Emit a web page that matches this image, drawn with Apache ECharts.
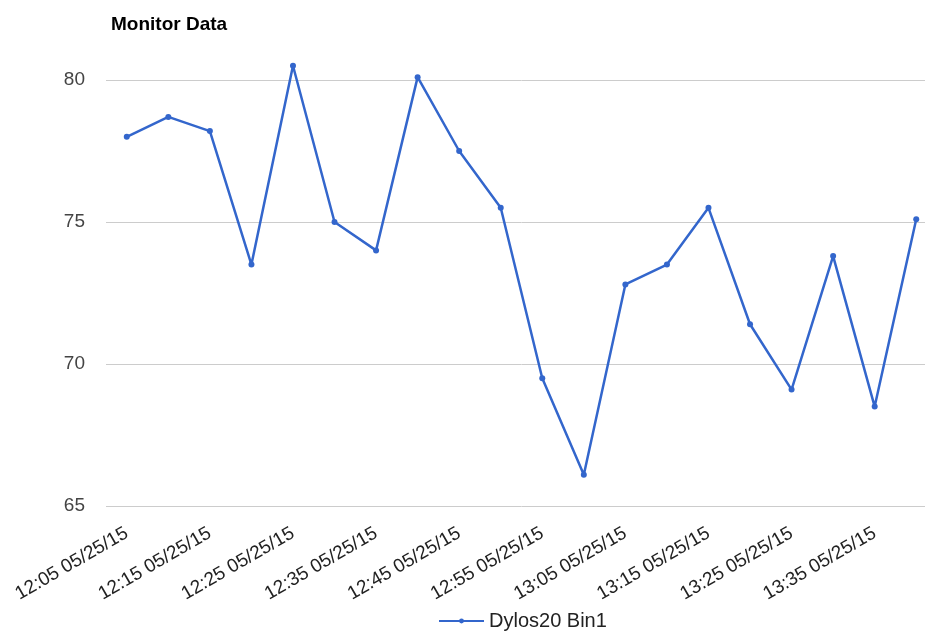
<!DOCTYPE html>
<html>
<head>
<meta charset="utf-8">
<script src="https://cdn.jsdelivr.net/npm/echarts@6/dist/echarts.min.js"></script>
<style>
  html, body { margin: 0; padding: 0; background: #fff; overflow: hidden; }
  /* plot runs a bit past the right edge in the original, so the canvas is wider than the window */
  #chart { width: 937px; height: 634px; }
</style>
</head>
<body>
<div id="chart"></div>
<script>
// readings every 5 min on 05/25/15
const categories = ['12:05', '12:10', '12:15', '12:20', '12:25', '12:30', '12:35', '12:40', '12:45', '12:50',
  '12:55', '13:00', '13:05', '13:10', '13:15', '13:20', '13:25', '13:30', '13:35', '13:40']
  .map(t => t + ' 05/25/15');
const bin1 = [78.0, 78.7, 78.2, 73.5, 80.5, 75.0, 74.0, 80.1, 77.5, 75.5,
  69.5, 66.1, 72.8, 73.5, 75.5, 71.4, 69.1, 73.8, 68.5, 75.1];
const yTicks = [65, 70, 75, 80];

const font = 'Liberation Sans, Arial, sans-serif';
const chart = echarts.init(document.getElementById('chart'));
chart.setOption({
  animation: false,
  title: {
    text: 'Monitor Data',
    left: 106,
    top: 10,
    textStyle: { fontFamily: font, fontSize: 19, fontWeight: 'bold', color: '#000' }
  },
  grid: { left: 106, top: 80, right: 0, height: 426 },
  legend: {
    bottom: -2,
    left: 433,
    itemWidth: 45,
    itemHeight: 6,
    textStyle: { fontFamily: font, fontSize: 20, color: '#222' },
    data: ['Dylos20 Bin1']
  },
  xAxis: {
    type: 'category',
    data: categories,
    boundaryGap: true,
    axisLine: { show: false },
    axisTick: { show: false },
    axisLabel: {
      interval: 1,
      rotate: 30,
      margin: 26,
      fontFamily: font,
      fontSize: 19,
      color: '#222'
    }
  },
  yAxis: {
    type: 'value',
    min: yTicks[0],
    max: yTicks[yTicks.length - 1],
    interval: 5,
    axisLine: { show: false },
    axisTick: { show: false },
    splitLine: { lineStyle: { color: '#cccccc' } },
    axisLabel: { margin: 21, fontFamily: font, fontSize: 19, color: '#444' }
  },
  series: [{
    name: 'Dylos20 Bin1',
    type: 'line',
    data: bin1,
    clip: false,
    symbol: 'circle',
    symbolSize: 6,
    lineStyle: { color: '#3366cc', width: 2.5 },
    itemStyle: { color: '#3366cc' }
  }]
});
</script>
</body>
</html>
